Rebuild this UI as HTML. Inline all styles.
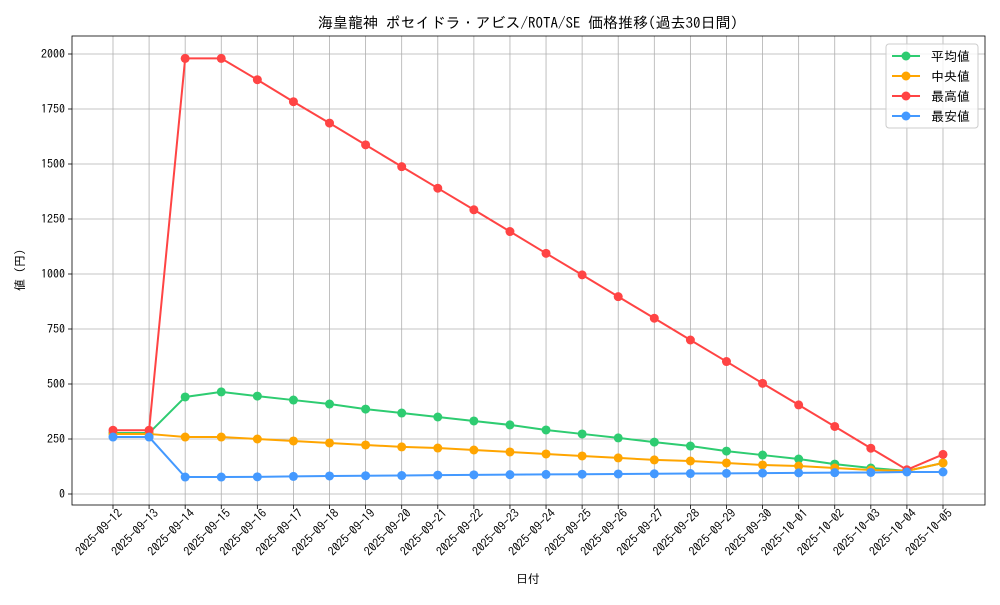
<!DOCTYPE html>
<html><head><meta charset="utf-8"><style>
body{margin:0;background:#fff;}
svg text{font-family:"IPAGothic","Liberation Sans","Noto Sans CJK JP",sans-serif;fill:#000;}
</style></head><body>
<svg id="chart" width="1000" height="600" xmlns="http://www.w3.org/2000/svg"></svg>
<script>
const dates=["2025-09-12","2025-09-13","2025-09-14","2025-09-15","2025-09-16","2025-09-17","2025-09-18","2025-09-19","2025-09-20","2025-09-21","2025-09-22","2025-09-23","2025-09-24","2025-09-25","2025-09-26","2025-09-27","2025-09-28","2025-09-29","2025-09-30","2025-10-01","2025-10-02","2025-10-03","2025-10-04","2025-10-05"];
const meanVals=[277,277,441,464,445,427,409,386,368,350,332,314,291,273,255,236,218,195,177,159,136,118,105,141];
const medianVals=[273,273,259,259,250,241,232,223,214,209,200,191,182,173,164,155,150,141,132,127,118,109,105,141];
const maxVals=[290,290,1980,1980,1883,1783,1686,1587,1488,1390,1292,1193,1094,996,897,799,700,602,503,405,307,208,110,180];
const minVals=[259,259,77,77,78,80,82,83,84,86,87,88,89,90,91,92,93,94,95,96,97,98,100,100];
const yTicks=[0,250,500,750,1000,1250,1500,1750,2000];
const seriesNames=["平均値","中央値","最高値","最安値"];

const NS="http://www.w3.org/2000/svg";
const svg=document.getElementById('chart');
const L=72,R=985,T=36,B=505;
const x0=113,x1=943;
const X=i=>x0+(x1-x0)*i/(dates.length-1);
const Y=v=>494-(v/2000)*(494-54);
function mk(tag,attrs,parent){const e=document.createElementNS(NS,tag);for(const k in attrs)e.setAttribute(k,attrs[k]);(parent||svg).appendChild(e);return e;}

dates.forEach((d,i)=>{
  const g=mk('line',{x1:X(i),x2:X(i),y1:T,y2:B,stroke:'#b0b0b0','stroke-width':0.8});
  
  
  mk('line',{x1:X(i),x2:X(i),y1:B,y2:B+4,stroke:'#000','stroke-width':0.8});
  const t=mk('text',{x:0,y:0,'font-size':12,'text-anchor':'end',transform:`translate(${X(i)+10},${B+9}) rotate(-45)`});
  t.textContent=d;
  
  
});
yTicks.forEach(v=>{
  const g=mk('line',{x1:L,x2:R,y1:Y(v),y2:Y(v),stroke:'#b0b0b0','stroke-width':0.8});
  
  
  mk('line',{x1:L-4,x2:L,y1:Y(v),y2:Y(v),stroke:'#000','stroke-width':0.8});
  const t=mk('text',{x:L-7,y:Y(v)+4,'font-size':12,'text-anchor':'end'});
  t.textContent=v;
  
  
});
const frame=mk('rect',{x:L,y:T,width:R-L,height:B-T,fill:'none',stroke:'#000','stroke-width':0.8});



const series=[[meanVals,'#2ecc71'],[medianVals,'#ffa500'],[maxVals,'#ff4444'],[minVals,'#4499ff']];
const sNames=['mean','median','max','min'];
series.forEach(([vals,c],si)=>{
  const g=mk('g',{});
  
  
  mk('polyline',{points:vals.map((v,i)=>X(i)+','+Y(v)).join(' '),fill:'none',stroke:c,'stroke-width':2},g);
  vals.forEach((v,i)=>{
    const p=mk('circle',{cx:X(i),cy:Y(v),r:4.5,fill:c},g);
    
    
  });
});

const lg=mk('g',{});


mk('rect',{x:886,y:44,width:92,height:84,rx:3,fill:'#fff','fill-opacity':0.8,stroke:'#ccc'},lg);
series.forEach(([v,c],i)=>{
  const yy=56+i*20;
  const e=mk('g',{},lg);
  
  
  mk('line',{x1:892,x2:920,y1:yy,y2:yy,stroke:c,'stroke-width':2},e);
  mk('circle',{cx:906,cy:yy,r:4.5,fill:c},e);
  const t=mk('text',{x:931,y:yy+5,'font-size':13},e);
  t.textContent=seriesNames[i];
});

const title=mk('text',{x:528,y:28,'font-size':15,'text-anchor':'middle'});
title.textContent='海皇龍神 ポセイドラ・アビス/ROTA/SE 価格推移(過去30日間)';


const xt=mk('text',{x:528,y:583,'font-size':12,'text-anchor':'middle'});
xt.textContent='日付';


const yt=mk('text',{x:0,y:0,'font-size':12,'text-anchor':'middle',transform:'translate(24,270) rotate(-90)'});
yt.textContent='値 (円)';


</script>
</body></html>
